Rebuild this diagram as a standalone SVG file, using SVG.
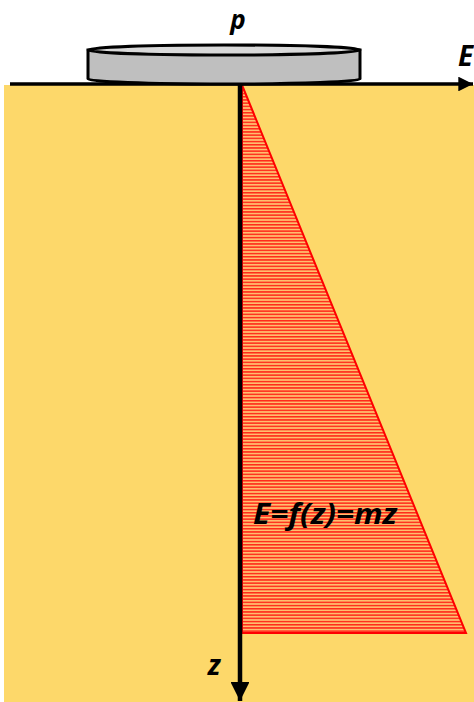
<svg xmlns="http://www.w3.org/2000/svg" width="474" height="702" viewBox="0 0 474 702">
<style>
.lbl{font-family:"Open Sans","Liberation Sans",sans-serif;font-weight:bold;font-style:italic;fill:#000}
.ax{stroke:#000;fill:none}
</style>
<defs>
<pattern id="hatch" patternUnits="userSpaceOnUse" width="6" height="3.2">
<rect width="6" height="3.2" fill="#FFBE6E"/>
<rect y="0" width="6" height="1.5" fill="#FF2A1A"/>
</pattern>
<marker id="ah" viewBox="0 0 10 10" refX="10" refY="5" markerWidth="4.2" markerHeight="4.2" markerUnits="strokeWidth" orient="auto">
<path d="M0,0 L10,5 L0,10 z" fill="#000"/>
</marker>
</defs>
<rect width="474" height="702" fill="#fff"/>
<g id="soil"><rect x="4" y="85" width="470" height="617" fill="#FDD86A"/></g>
<g id="distribution">
<polygon points="242,85 466,633 242,633" fill="url(#hatch)" stroke="#FF0000" stroke-width="2"/>
<text class="lbl" x="253" y="524" font-size="29" textLength="144" lengthAdjust="spacingAndGlyphs">E=f(z)=mz</text>
</g>
<g id="connectors">
<line class="ax" x1="10" y1="84" x2="473" y2="84" stroke-width="3.5" marker-end="url(#ah)"/>
<line class="ax" x1="240" y1="84" x2="240" y2="701" stroke-width="4.5" marker-end="url(#ah)"/>
</g>
<g id="plate">
<path d="M88,50 L88,79 A136,5 0 0 0 360,79 L360,50 Z" fill="#BFBFBF" stroke="#000" stroke-width="3"/>
<ellipse cx="224" cy="50" rx="136" ry="5" fill="#D9D9D9" stroke="#000" stroke-width="3"/>
<text class="lbl" x="238" y="29" font-size="26" text-anchor="middle">p</text>
</g>
<g id="labels">
<text class="lbl" x="458" y="66" font-size="28">E</text>
<text class="lbl" x="214" y="675" font-size="28" text-anchor="middle">z</text>
</g>
</svg>
